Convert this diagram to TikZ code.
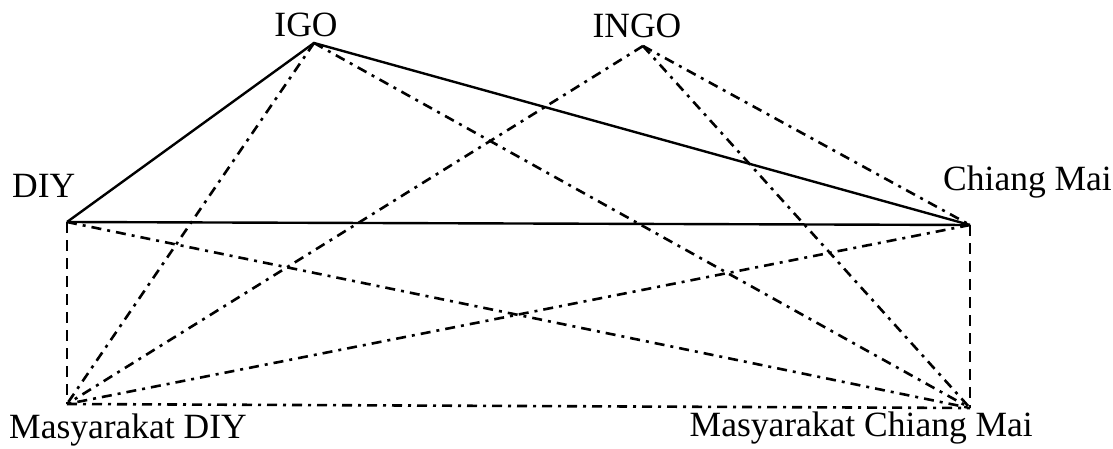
\documentclass[tikz,border=0pt]{standalone}
\usepackage{fontspec}
\setmainfont{Liberation Serif}
\begin{document}
\begin{tikzpicture}[x=1pt,y=-1pt,
  lbl/.style={inner sep=0pt,font=\fontsize{35.5}{40}\selectfont},
  solidline/.style={line width=2.4pt},
  dashdot/.style={line width=2.6pt,dash pattern=on 10pt off 6pt on 3pt off 6pt},
  dashline/.style={line width=2.6pt,dash pattern=on 11pt off 7pt},
  line join=miter]
\useasboundingbox (0,0) rectangle (1113,449);
% vertex points
\coordinate (igo) at (314,43);
\coordinate (ingo) at (643,46);
\coordinate (diy) at (67,222);
\coordinate (cm) at (970,225);
\coordinate (mdiy) at (67,404);
\coordinate (mcm) at (970,408);
% labels
\node[lbl,anchor=base] (tigo) at (306,37) {IGO};
\node[lbl,anchor=base] (tingo) at (637,38) {INGO};
\node[lbl,anchor=base west] (tdiy) at (12,197) {DIY};
\node[lbl,anchor=base east] (tcm) at (1112,190) {Chiang Mai};
\node[lbl,anchor=base west] (tmdiy) at (9,438) {Masyarakat DIY};
\node[lbl,anchor=base east] (tmcm) at (1033,436) {Masyarakat Chiang Mai};
% solid connectors
\draw[solidline] (diy) -- (igo) -- (cm);
\draw[solidline] (diy) -- (cm);
% dashed verticals
\draw[dashline] (diy) -- (mdiy);
\draw[dashline] (cm) -- (mcm);
% dash-dot connectors
\draw[dashdot] (igo) -- (mdiy);
\draw[dashdot] (igo) -- (mcm);
\draw[dashdot] (ingo) -- (mdiy);
\draw[dashdot] (ingo) -- (mcm);
\draw[dashdot] (ingo) -- (cm);
\draw[dashdot] (diy) -- (mcm);
\draw[dashdot] (cm) -- (mdiy);
\draw[dashdot] (mdiy) -- (mcm);
\end{tikzpicture}
\end{document}
